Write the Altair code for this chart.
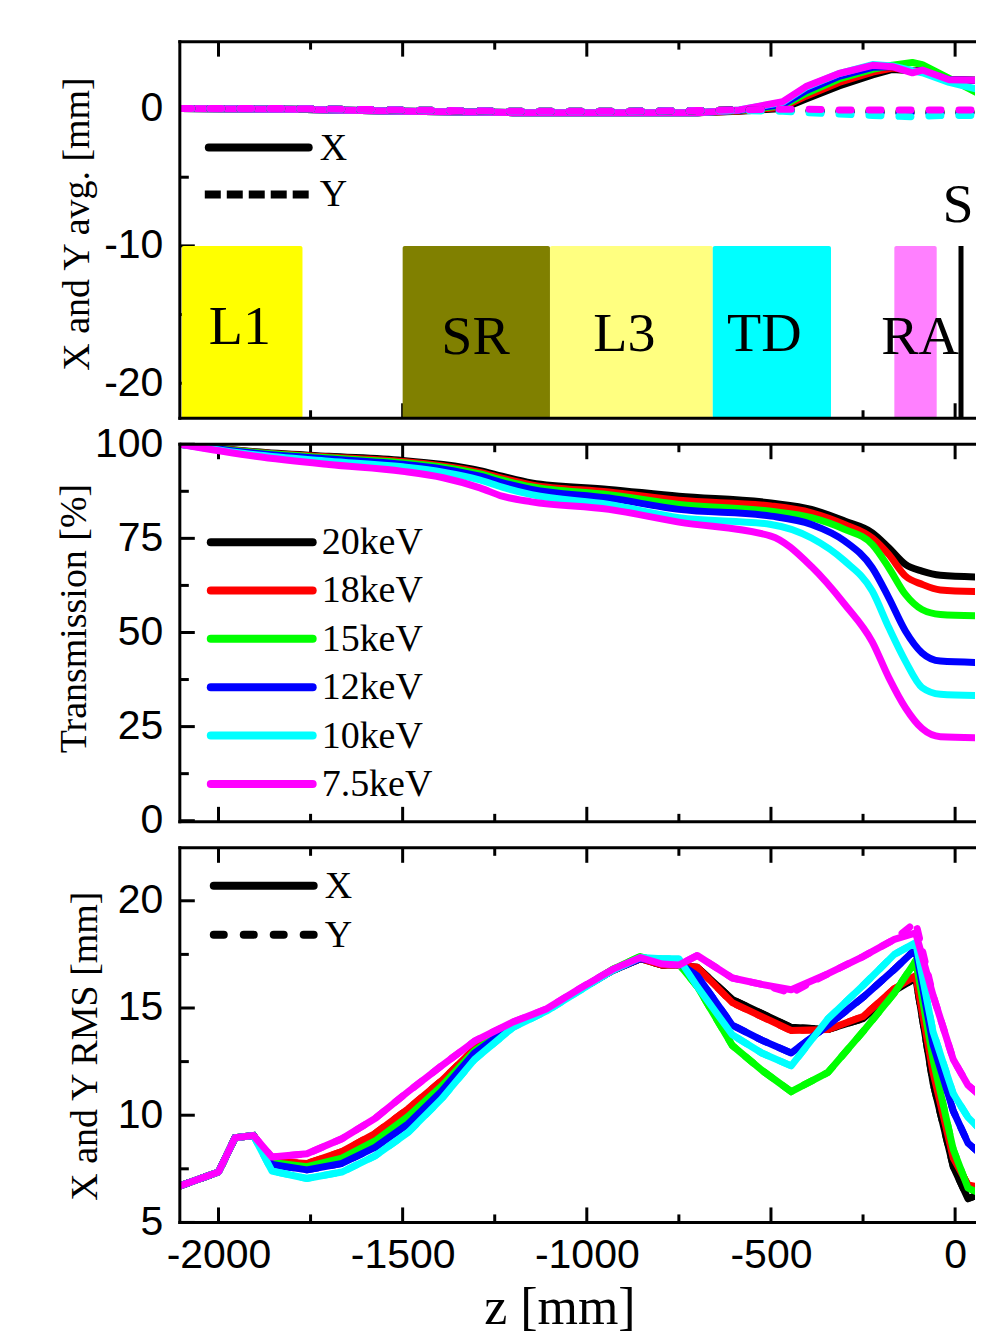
import altair as alt
import pandas as pd

# ---------------- data ----------------
ENERGIES = ["20keV", "18keV", "15keV", "12keV", "10keV", "7.5keV"]
COLORS = ["#000000", "#ff0000", "#00ff00", "#0000ff", "#00ffff", "#ff00ff"]

Z_DOMAIN = [-2105, 54]

# panel 1 : beam centroid (X solid, Y dashed)
z_avg = [-2105, -1800, -1500, -1200, -900, -700, -586, -468, -405, -315, -224, -170, -116, -89, -16, 76]
avg_x = {
    "20keV": [0.0, -0.05, -0.2, -0.3, -0.3, -0.3, -0.2, 0.0, 0.7, 1.65, 2.45, 2.85, 2.75, 2.75, 2.1, 2.05],
    "18keV": [0.0, -0.05, -0.2, -0.3, -0.3, -0.3, -0.18, 0.1, 0.9, 1.9, 2.65, 2.95, 2.75, 2.75, 2.1, 2.05],
    "15keV": [0.0, -0.05, -0.2, -0.3, -0.3, -0.3, -0.15, 0.2, 1.1, 2.15, 2.85, 3.15, 3.35, 3.2, 2.2, 0.9],
    "12keV": [0.0, -0.05, -0.2, -0.3, -0.3, -0.3, -0.12, 0.3, 1.3, 2.35, 3.0, 3.05, 2.7, 2.75, 2.1, 2.05],
    "10keV": [0.0, -0.05, -0.2, -0.3, -0.3, -0.3, -0.1, 0.45, 1.55, 2.55, 3.2, 3.1, 2.75, 2.6, 1.9, 1.3],
    "7.5keV": [0.0, -0.05, -0.2, -0.3, -0.3, -0.3, -0.1, 0.5, 1.6, 2.55, 3.15, 3.05, 2.6, 2.8, 2.1, 2.05],
}
avg_y = {
    "20keV": [0.0, 0.0, -0.1, -0.2, -0.2, -0.15, -0.1, -0.1, -0.15, -0.2, -0.2, -0.25, -0.25, -0.25, -0.25, -0.25],
    "18keV": [0.0, 0.0, -0.1, -0.2, -0.2, -0.15, -0.1, -0.1, -0.15, -0.2, -0.2, -0.25, -0.25, -0.25, -0.25, -0.25],
    "15keV": [0.0, 0.0, -0.1, -0.2, -0.2, -0.15, -0.1, -0.1, -0.15, -0.2, -0.2, -0.25, -0.25, -0.25, -0.25, -0.25],
    "12keV": [0.0, 0.0, -0.1, -0.2, -0.2, -0.15, -0.1, -0.15, -0.2, -0.25, -0.3, -0.35, -0.35, -0.35, -0.35, -0.3],
    "10keV": [0.0, 0.0, -0.1, -0.2, -0.2, -0.15, -0.15, -0.2, -0.3, -0.4, -0.5, -0.55, -0.6, -0.55, -0.5, -0.5],
    "7.5keV": [0.0, 0.0, -0.1, -0.2, -0.2, -0.15, -0.1, -0.05, -0.05, -0.1, -0.1, -0.1, -0.1, -0.1, -0.1, -0.1],
}

zone_names = ["L1", "SR", "L3", "TD", "RA"]
zone_start = [-2100, -1500, -1100, -658, -165]
zone_end = [-1772, -1100, -658, -337, -50]
zone_colors = ["#ffff00", "#808000", "#ffff80", "#00ffff", "#ff80ff"]
zone_top = -10.0
zone_bottom = -22.55
zone_label_z = [-1942, -1302, -898, -518, -95]
zone_label_v = [-15.9, -16.6, -16.4, -16.4, -16.6]
screen_z = 16
screen_label = "S"
screen_label_z = 8
screen_label_v = -7.0

# panel 2 : transmission
z_trans = [-2105, -1900, -1700, -1500, -1390, -1290, -1230, -1150, -940, -750,
           -500, -390, -300, -225, -180, -135, -90, -40, 76]
trans = {
    "20keV": [100, 98.0, 96.8, 95.7, 94.6, 93.0, 91.5, 89.7, 88.0, 86.2, 84.4, 82.7, 79.6, 76.5, 72.5, 68.1, 66.3, 65.2, 64.7],
    "18keV": [100, 97.9, 96.6, 95.4, 94.2, 92.5, 91.0, 89.2, 87.3, 85.1, 83.6, 81.8, 78.7, 75.1, 70.7, 65.0, 62.8, 61.3, 60.8],
    "15keV": [100, 97.8, 96.4, 95.1, 93.9, 92.1, 90.5, 88.7, 86.6, 84.0, 82.2, 80.5, 77.4, 73.4, 67.2, 60.1, 56.1, 54.8, 54.4],
    "12keV": [100, 97.6, 96.1, 94.7, 93.4, 91.5, 89.8, 88.0, 85.7, 82.7, 80.9, 78.7, 74.3, 67.2, 59.2, 50.4, 44.6, 42.4, 42.0],
    "10keV": [100, 97.2, 95.5, 94.0, 92.6, 90.5, 88.6, 86.6, 84.0, 80.5, 78.7, 75.1, 69.0, 61.0, 51.3, 42.4, 35.4, 33.6, 33.2],
    "7.5keV": [100, 96.8, 94.6, 92.8, 91.1, 88.4, 86.2, 84.7, 82.7, 79.3, 75.6, 67.5, 57.5, 47.5, 38.0, 30.0, 24.5, 22.3, 22.0],
}

# panel 3 : RMS size
z_rms = [-2105, -2000, -1955, -1905, -1855, -1760, -1665, -1575, -1485, -1395,
         -1305, -1200, -1110, -1020, -930, -855, -795, -750, -700, -605,
         -525, -445, -345, -250, -165, -107, -60, -5, 35, 76]
rms_x = {
    "20keV": [6.7, 7.35, 8.95, 9.05, 7.8, 7.7, 8.2, 9.05, 10.2, 11.5, 13.0, 14.2, 14.9, 15.85, 16.75, 17.3, 17.0, 17.0, 16.9, 15.4, 14.75, 14.1, 14.0, 14.5, 15.8, 16.4, 11.5, 7.6, 6.1, 6.4],
    "18keV": [6.7, 7.35, 8.95, 9.05, 7.85, 7.75, 8.3, 9.15, 10.3, 11.6, 13.1, 14.25, 14.9, 15.85, 16.75, 17.3, 17.0, 17.0, 16.9, 15.25, 14.6, 13.95, 14.0, 14.6, 15.9, 16.5, 12.0, 8.0, 6.75, 6.6],
    "15keV": [6.7, 7.35, 8.95, 9.05, 7.8, 7.6, 8.0, 8.8, 9.95, 11.35, 13.0, 14.25, 14.9, 15.85, 16.8, 17.4, 17.1, 17.05, 16.0, 13.25, 12.1, 11.1, 12.0, 13.9, 15.7, 17.2, 12.6, 8.4, 6.6, 6.3],
    "12keV": [6.7, 7.35, 8.95, 9.05, 7.7, 7.45, 7.75, 8.5, 9.6, 11.1, 12.9, 14.2, 14.9, 15.85, 16.75, 17.3, 17.15, 17.1, 16.5, 14.2, 13.5, 12.9, 14.2, 15.5, 16.8, 17.75, 13.3, 10.2, 8.7, 8.1],
    "10keV": [6.7, 7.35, 8.95, 9.05, 7.4, 7.05, 7.35, 8.1, 9.2, 10.75, 12.6, 14.1, 14.85, 15.8, 16.75, 17.35, 17.3, 17.3, 16.0, 13.75, 12.9, 12.3, 14.5, 16.05, 17.5, 18.05, 13.9, 11.0, 9.9, 9.2],
    "7.5keV": [6.7, 7.35, 8.95, 9.05, 8.05, 8.2, 8.9, 9.85, 11.1, 12.3, 13.45, 14.35, 14.95, 15.9, 16.8, 17.35, 17.05, 17.0, 17.45, 16.4, 16.1, 15.85, 16.6, 17.4, 18.2, 18.5, 15.6, 12.6, 11.4, 10.8],
}
rms_y = {
    "20keV": [6.7, 7.35, 8.95, 9.05, 7.8, 7.7, 8.2, 9.05, 10.2, 11.5, 13.0, 14.2, 14.9, 15.85, 16.75, 17.3, 17.0, 17.0, 16.9, 15.4, 14.75, 14.1, 14.0, 14.5, 15.8, 16.4, 11.5, 7.6, 6.1, 6.4],
    "18keV": [6.7, 7.35, 8.95, 9.05, 7.85, 7.75, 8.3, 9.15, 10.3, 11.6, 13.1, 14.25, 14.9, 15.85, 16.75, 17.3, 17.0, 17.0, 16.9, 15.25, 14.6, 13.95, 14.0, 14.6, 15.9, 16.5, 12.0, 8.0, 6.75, 6.6],
    "15keV": [6.7, 7.35, 8.95, 9.05, 7.8, 7.6, 8.0, 8.8, 9.95, 11.35, 13.0, 14.25, 14.9, 15.85, 16.8, 17.4, 17.1, 17.05, 16.0, 13.25, 12.1, 11.1, 12.0, 13.9, 15.7, 17.2, 12.6, 8.4, 6.6, 6.3],
    "12keV": [6.7, 7.35, 8.95, 9.05, 7.7, 7.45, 7.75, 8.5, 9.6, 11.1, 12.9, 14.2, 14.9, 15.85, 16.75, 17.3, 17.15, 17.1, 16.5, 14.2, 13.5, 12.9, 14.2, 15.5, 16.8, 17.75, 13.3, 10.2, 8.7, 8.1],
    "10keV": [6.7, 7.35, 8.95, 9.05, 7.4, 7.05, 7.35, 8.1, 9.2, 10.75, 12.6, 14.1, 14.85, 15.8, 16.75, 17.35, 17.3, 17.3, 16.0, 13.75, 12.9, 12.3, 14.5, 16.05, 17.5, 18.05, 13.9, 11.0, 9.9, 9.2],
    "7.5keV": [6.7, 7.35, 8.95, 9.05, 8.05, 8.2, 8.9, 9.85, 11.1, 12.3, 13.45, 14.35, 14.95, 15.9, 16.8, 17.35, 17.05, 17.0, 17.45, 16.4, 16.1, 15.7, 16.6, 17.4, 18.2, 19.0, 15.6, 12.6, 11.4, 10.8],
}

# tick values
x_major = [-2000, -1500, -1000, -500, 0]
x_minor = [-1750, -1250, -750, -250]
avg_major, avg_minor = [-20, -10, 0], [-15, -5]
trans_major, trans_minor = [0, 25, 50, 75, 100], [12.5, 37.5, 62.5, 87.5]
rms_major, rms_minor = [5, 10, 15, 20], [7.5, 12.5, 17.5]

# ---------------- styling ----------------
W = 796
H1, H2, H3 = 377, 378, 375
SERIF = "Liberation Serif"
SANS = "Liberation Sans"
LW = 7
MINUS_FIX = "replace(datum.label, '\u2212', '-')"
ONE = pd.DataFrame({"k": [0]})


def x_enc(field, axis):
    return alt.X(f"{field}:Q", scale=alt.Scale(domain=Z_DOMAIN, nice=False, zero=False), axis=axis)


def y_enc(field, domain, axis):
    return alt.Y(f"{field}:Q", scale=alt.Scale(domain=domain, nice=False, zero=False), axis=axis)


def y_axis(values, title, tx, ty):
    return alt.Axis(values=values, title=title, titleX=tx, titleY=ty, titleBaseline="middle",
                    labelPadding=17, format="d", labelExpr=MINUS_FIX)


def frame_layers(X, Y, xmaj, xmin, ymaj, ymin, H):
    out = []
    # x ticks (top & bottom, inward)
    for vals, ln in ((xmaj, 15), (xmin, 8)):
        d = pd.DataFrame({"z": vals})
        out.append(alt.Chart(d).mark_rule(color="black", strokeWidth=3).encode(
            x=X("z"), y=alt.value(0), y2=alt.value(ln)))
        out.append(alt.Chart(d).mark_rule(color="black", strokeWidth=3).encode(
            x=X("z"), y=alt.value(H), y2=alt.value(H - ln)))
    for vals, ln in ((ymaj, 15), (ymin, 9)):
        d = pd.DataFrame({"v": vals})
        out.append(alt.Chart(d).mark_rule(color="black", strokeWidth=3).encode(
            y=Y("v"), x=alt.value(0), x2=alt.value(ln)))
    return out


def border_layers(H):
    b = alt.Chart(ONE).mark_rule(color="black", strokeWidth=3, strokeCap="square")
    return [
        b.encode(x=alt.value(0), x2=alt.value(W + 4), y=alt.value(0)),
        b.encode(x=alt.value(0), x2=alt.value(W + 4), y=alt.value(H)),
        b.encode(x=alt.value(0), y=alt.value(0), y2=alt.value(H)),
    ]


def legend_entry(x1, x2, y, tx, label, color, dash=None, cap="round"):
    kw = dict(color=color, strokeWidth=8, strokeCap=cap)
    if dash is not None:
        kw["strokeDash"] = dash
    line = alt.Chart(ONE).mark_rule(**kw).encode(x=alt.value(x1), x2=alt.value(x2), y=alt.value(y))
    txt = alt.Chart(ONE).mark_text(font=SERIF, fontSize=38, align="left", baseline="middle",
                                   color="black").encode(x=alt.value(tx), y=alt.value(y + 1),
                                                         text=alt.value(label))
    return [line, txt]


def long_df(z, series, name):
    return pd.DataFrame({"z": z, "v": series[name]})


# ---------------- panel 1 ----------------
D1 = [-22.55, 4.87]
AX1 = y_axis([-20, -10, 0], "X and Y avg. [mm]", -102, 182)
X1 = lambda f: x_enc(f, None)
Y1 = lambda f: y_enc(f, D1, AX1)

p1_layers = frame_layers(X1, Y1, x_major, x_minor, avg_major, avg_minor, H1)

zones = pd.DataFrame({"name": zone_names, "start": zone_start, "end": zone_end,
                      "top": [zone_top] * len(zone_names), "bottom": [zone_bottom] * len(zone_names)})
p1_layers.append(alt.Chart(zones).mark_rect(cornerRadius=2).encode(
    x=X1("start"), x2="end", y=Y1("top"), y2="bottom",
    color=alt.Color("name:N", scale=alt.Scale(domain=zone_names, range=zone_colors), legend=None)))
zlab = pd.DataFrame({"z": zone_label_z, "v": zone_label_v, "t": zone_names})
p1_layers.append(alt.Chart(zlab).mark_text(font=SERIF, fontSize=56, baseline="middle", color="black").encode(
    x=X1("z"), y=Y1("v"), text="t:N"))
scr = pd.DataFrame({"z": [screen_z], "top": [zone_top], "bottom": [zone_bottom]})
p1_layers.append(alt.Chart(scr).mark_rule(color="black", strokeWidth=5).encode(
    x=X1("z"), y=Y1("top"), y2="bottom"))
slab = pd.DataFrame({"z": [screen_label_z], "v": [screen_label_v], "t": [screen_label]})
p1_layers.append(alt.Chart(slab).mark_text(font=SERIF, fontSize=56, baseline="middle", color="black").encode(
    x=X1("z"), y=Y1("v"), text="t:N"))

for e, c in zip(ENERGIES, COLORS):
    p1_layers.append(alt.Chart(long_df(z_avg, avg_x, e)).mark_line(
        color=c, strokeWidth=LW, clip=True, strokeJoin="round").encode(x=X1("z"), y=Y1("v")))
for e, c in zip(ENERGIES, COLORS):
    p1_layers.append(alt.Chart(long_df(z_avg, avg_y, e)).mark_line(
        color=c, strokeWidth=LW, clip=True, strokeDash=[12, 18], strokeCap="round").encode(
        x=X1("z"), y=Y1("v")))

p1_layers += legend_entry(29, 129, 106, 140, "X", "black")
p1_layers += legend_entry(25, 133, 153, 140, "Y", "black", dash=[16, 6], cap="butt")
p1_layers += border_layers(H1)
panel1 = alt.layer(*p1_layers).properties(width=W, height=H1)

# ---------------- panel 2 ----------------
D2 = [-0.3, 100]
AX2 = y_axis(trans_major, "Transmission [%]", -105, 174)
X2 = lambda f: x_enc(f, None)
Y2 = lambda f: y_enc(f, D2, AX2)

p2_layers = frame_layers(X2, Y2, x_major, x_minor, trans_major, trans_minor, H2)
for e, c in zip(ENERGIES, COLORS):
    p2_layers.append(alt.Chart(long_df(z_trans, trans, e)).mark_line(
        color=c, strokeWidth=LW, clip=True, interpolate="monotone").encode(x=X2("z"), y=Y2("v")))
for i, (e, c) in enumerate(zip(ENERGIES, COLORS)):
    p2_layers += legend_entry(31, 133, 98 + i * 48.4, 142, e, c)
p2_layers += border_layers(H2)
panel2 = alt.layer(*p2_layers).properties(width=W, height=H2)

# ---------------- panel 3 ----------------
D3 = [5, 22.47]
AX3 = y_axis(rms_major, "X and Y RMS [mm]", -94, 198)
XAX = alt.Axis(values=x_major, title="z [mm]", format="d", labelExpr=MINUS_FIX, labelFlush=False,
               labelBaseline="middle", labelPadding=33, labelFontSize=41, titleX=380, titleY=101,
               titleBaseline="alphabetic", titleAlign="center", titleFontSize=52)
X3 = lambda f: x_enc(f, XAX)
Y3 = lambda f: y_enc(f, D3, AX3)

p3_layers = frame_layers(X3, Y3, x_major, x_minor, rms_major, rms_minor, H3)
for e, c in zip(ENERGIES, COLORS):
    p3_layers.append(alt.Chart(long_df(z_rms, rms_y, e)).mark_line(
        color=c, strokeWidth=LW, clip=True, strokeDash=[10, 14], strokeCap="round").encode(
        x=X3("z"), y=Y3("v")))
for e, c in zip(ENERGIES, COLORS):
    p3_layers.append(alt.Chart(long_df(z_rms, rms_x, e)).mark_line(
        color=c, strokeWidth=LW, clip=True, strokeJoin="round").encode(x=X3("z"), y=Y3("v")))
p3_layers += legend_entry(34, 134, 38, 145, "X", "black")
p3_layers += legend_entry(34, 134, 87, 145, "Y", "black", dash=[10, 20], cap="round")
p3_layers += border_layers(H3)
panel3 = alt.layer(*p3_layers).properties(width=W, height=H3)

chart = alt.vconcat(panel1, panel2, panel3, spacing=26, bounds="flush").resolve_scale(
    x="independent", y="independent", color="independent"
).configure_view(stroke=None).configure_axis(
    grid=False, domain=False, ticks=False, tickSize=0,
    labelFont=SANS, labelFontSize=41, labelColor="black",
    titleFont=SERIF, titleFontSize=38, titleFontWeight="normal", titleColor="black",
).properties(padding={"left": 47, "top": 30, "right": -6, "bottom": 0})

chart.save("out.html", embed_options={"renderer": "svg", "actions": False})
